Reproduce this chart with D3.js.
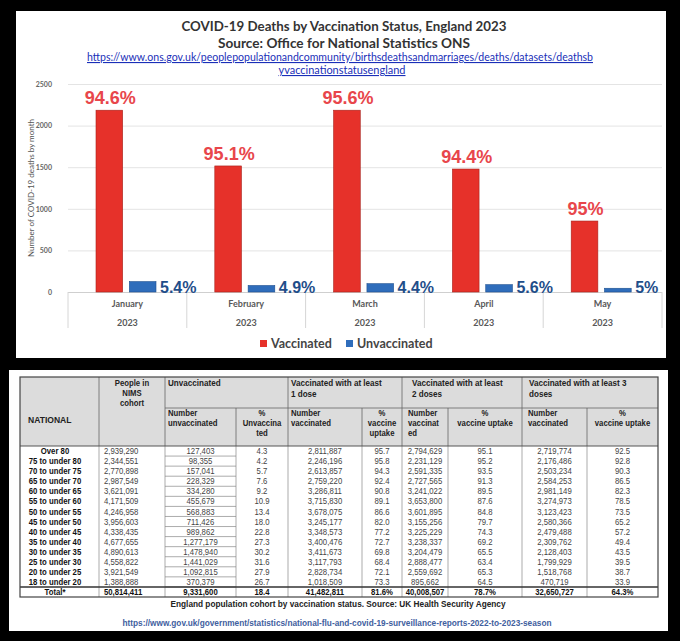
<!DOCTYPE html>
<html>
<head>
<meta charset="utf-8">
<script src="https://cdn.jsdelivr.net/npm/d3@7"></script>
<style>
body { margin: 0; background: #000; }
svg { display: block; }
</style>
</head>
<body>
<div id="chart-area"></div>
<script>
var width = 680,
	height = 641;

// Chart data (deaths)
var months = ["January", "February", "March", "April", "May"];
var vaccinated = [2185, 1515, 2185, 1478, 853];
var unvaccinated = [125, 78, 100, 88, 45];
var vaccinatedPct = ["94.6%", "95.1%", "95.6%", "94.4%", "95%"];
var unvaccinatedPct = ["5.4%", "4.9%", "4.4%", "5.6%", "5%"];
var yTicks = [0, 500, 1000, 1500, 2000, 2500];
var series = ["Vaccinated", "Unvaccinated"];

// Table data
var ageGroups = ["Over 80", "75 to under 80", "70 to under 75", "65 to under 70", "60 to under 65",
	"55 to under 60", "50 to under 55", "45 to under 50", "40 to under 45", "35 to under 40",
	"30 to under 35", "25 to under 30", "20 to under 25", "18 to under 20"];
var cohort = [2939290, 2344551, 2770898, 2987549, 3621091, 4171509, 4246958, 3956603, 4338435, 4677655, 4890613, 4558822, 3921549, 1388888];
var unvaxNum = [127403, 98355, 157041, 228329, 334280, 455679, 568883, 711426, 989862, 1277179, 1478940, 1441029, 1092815, 370379];
var unvaxPct = [4.3, 4.2, 5.7, 7.6, 9.2, 10.9, 13.4, 18.0, 22.8, 27.3, 30.2, 31.6, 27.9, 26.7];
var dose1Num = [2811887, 2246196, 2613857, 2759220, 3286811, 3715830, 3678075, 3245177, 3348573, 3400476, 3411673, 3117793, 2828734, 1018509];
var dose1Pct = [95.7, 95.8, 94.3, 92.4, 90.8, 89.1, 86.6, 82.0, 77.2, 72.7, 69.8, 68.4, 72.1, 73.3];
var dose2Num = [2794629, 2231129, 2591335, 2727565, 3241022, 3653800, 3601895, 3155256, 3225229, 3238337, 3204479, 2888477, 2559692, 895662];
var dose2Pct = [95.1, 95.2, 93.5, 91.3, 89.5, 87.6, 84.8, 79.7, 74.3, 69.2, 65.5, 63.4, 65.3, 64.5];
var dose3Num = [2719774, 2176486, 2503234, 2584253, 2981149, 3274973, 3123423, 2580366, 2479488, 2309762, 2128403, 1799929, 1518768, 470719];
var dose3Pct = [92.5, 92.8, 90.3, 86.5, 82.3, 78.5, 73.5, 65.2, 57.2, 49.4, 43.5, 39.5, 38.7, 33.9];
var totalRow = ["Total*", 50814411, 9331600, 18.4, 41482811, 81.6, 40008507, 78.7, 32650727, 64.3];

var groupHeads = [["Unvaccinated"], ["Vaccinated with at least", "1 dose"],
	["Vaccinated with at least", "2 doses"], ["Vaccinated with at least 3", "doses"]];
var subHeads = [["Number", "unvaccinated"], ["%", "Unvaccina", "ted"], ["Number", "vaccinated"],
	["%", "vaccine", "uptake"], ["Number", "vaccinat", "ed"], ["%", "vaccine uptake"],
	["Number", "vaccinated"], ["%", "vaccine uptake"]];

var svg = d3.select("#chart-area").append("svg")
	.attr("width", width)
	.attr("height", height);

svg.append("rect").attr("width", width).attr("height", height).attr("fill", "#000");

// white panels
svg.append("rect").attr("x", 16).attr("y", 11).attr("width", 650).attr("height", 347).attr("fill", "#fff");
svg.append("rect").attr("x", 9).attr("y", 370).attr("width", 659).attr("height", 261).attr("fill", "#fff");

// ---------- top chart ----------
var head = svg.append("g").attr("font-family", "Lato, sans-serif").attr("text-anchor", "middle");
head.append("text").attr("x", 344).attr("y", 31).attr("font-size", 14).attr("font-weight", "bold")
	.attr("fill", "#333").attr("textLength", 325).attr("lengthAdjust", "spacingAndGlyphs")
	.text("COVID-19 Deaths by Vaccination Status, England 2023");
head.append("text").attr("x", 344).attr("y", 48).attr("font-size", 14).attr("font-weight", "bold")
	.attr("fill", "#333").attr("textLength", 252).attr("lengthAdjust", "spacingAndGlyphs")
	.text("Source: Office for National Statistics ONS");
head.append("text").attr("x", 340).attr("y", 61).attr("font-size", 11)
	.attr("fill", "#1a2fb8").attr("text-decoration", "underline")
	.attr("textLength", 506).attr("lengthAdjust", "spacingAndGlyphs")
	.text("https://www.ons.gov.uk/peoplepopulationandcommunity/birthsdeathsandmarriages/deaths/datasets/deathsb");
head.append("text").attr("x", 342).attr("y", 74).attr("font-size", 11)
	.attr("fill", "#1a2fb8").attr("text-decoration", "underline")
	.attr("textLength", 127).attr("lengthAdjust", "spacingAndGlyphs")
	.text("yvaccinationstatusengland");

var x0 = d3.scaleBand().domain(months).range([68, 662]);
var x1 = d3.scaleBand().domain(series).range([28, 88]).paddingInner(0.2);
var y = d3.scaleLinear().domain([0, 2500]).range([292, 84]);

var yAxis = d3.axisLeft(y).tickValues(yTicks).tickFormat(d3.format("d"))
	.tickSizeInner(-(662 - 68)).tickSizeOuter(0).tickPadding(16);
var gy = svg.append("g").attr("transform", "translate(68,0)").call(yAxis);
gy.select(".domain").remove();
gy.selectAll("line").attr("stroke", function(d) { return d === 0 ? "#cfcfcf" : "#e4e4e4"; });
gy.selectAll("text").attr("font-family", "Lato, sans-serif").attr("font-size", 7)
	.attr("font-weight", "bold").attr("fill", "#666");

svg.append("text")
	.attr("transform", "translate(34,188) rotate(-90)")
	.attr("text-anchor", "middle")
	.attr("font-family", "Lato, sans-serif").attr("font-size", 8).attr("fill", "#555")
	.text("Number of COVID-19 deaths by month");

// category separators under the axis
var edges = months.map(function(m) { return x0(m); }).concat([x0.range()[1]]);
svg.selectAll(".sep").data(edges).enter().append("line")
	.attr("x1", function(d) { return d; }).attr("x2", function(d) { return d; })
	.attr("y1", y(0)).attr("y2", 328)
	.attr("stroke", "#d6d6d6");

svg.selectAll(".month").data(months).enter().append("text")
	.attr("x", function(d) { return x0(d) + x0.bandwidth() / 2; })
	.attr("y", 307)
	.attr("text-anchor", "middle").attr("font-family", "Lato, sans-serif")
	.attr("font-size", 9).attr("font-weight", "bold").attr("fill", "#595959")
	.text(function(d) { return d; });
svg.selectAll(".year").data(months).enter().append("text")
	.attr("x", function(d) { return x0(d) + x0.bandwidth() / 2; })
	.attr("y", 326)
	.attr("text-anchor", "middle").attr("font-family", "Lato, sans-serif")
	.attr("font-size", 9).attr("font-weight", "bold").attr("fill", "#595959")
	.text("2023");

// bars
var bars = svg.append("g");
bars.selectAll(".vac").data(vaccinated).enter().append("rect")
	.attr("x", function(d, i) { return x0(months[i]) + x1("Vaccinated"); })
	.attr("y", function(d) { return y(d); })
	.attr("width", x1.bandwidth())
	.attr("height", function(d) { return y(0) - y(d); })
	.attr("fill", "#e6312a").attr("stroke", "#a8231d").attr("stroke-width", 0.6);
bars.selectAll(".unvac").data(unvaccinated).enter().append("rect")
	.attr("x", function(d, i) { return x0(months[i]) + x1("Unvaccinated"); })
	.attr("y", function(d) { return y(d); })
	.attr("width", x1.bandwidth())
	.attr("height", function(d) { return y(0) - y(d); })
	.attr("fill", "#2f6dbb").attr("stroke", "#1d4f8f").attr("stroke-width", 0.6);

bars.selectAll(".vacLabel").data(vaccinatedPct).enter().append("text")
	.attr("x", function(d, i) { return x0(months[i]) + x1("Vaccinated") + x1.bandwidth() / 2 + 1; })
	.attr("y", function(d, i) { return y(vaccinated[i]) - 6; })
	.attr("text-anchor", "middle")
	.attr("font-family", "Liberation Sans, Arial, sans-serif").attr("font-size", 18).attr("font-weight", "bold")
	.attr("fill", "#e8464b")
	.text(function(d) { return d; });
bars.selectAll(".unvacLabel").data(unvaccinatedPct).enter().append("text")
	.attr("x", function(d, i) { return x0(months[i]) + x1("Unvaccinated") + x1.bandwidth() + 4; })
	.attr("y", y(0) + 1)
	.attr("font-family", "Liberation Sans, Arial, sans-serif").attr("font-size", 16).attr("font-weight", "bold")
	.attr("fill", "#1f4e8a")
	.text(function(d) { return d; });

// legend
var legendX = [260, 346], legendColors = ["#e6312a", "#2f6dbb"];
var leg = svg.selectAll(".legend").data(series).enter().append("g")
	.attr("transform", function(d, i) { return "translate(" + legendX[i] + ",340)"; });
leg.append("rect").attr("width", 7).attr("height", 7).attr("fill", function(d, i) { return legendColors[i]; });
leg.append("text").attr("x", 11).attr("y", 8)
	.attr("font-family", "Lato, sans-serif").attr("font-size", 12.5).attr("font-weight", "bold")
	.attr("fill", "#444")
	.text(function(d) { return d; });

// ---------- table ----------
var colEdges = [20, 99, 165, 236, 288, 362, 402, 448, 522, 587, 658];
var tTop = 377, tMid = 408, tHead = 446, tBottom = 597;
var rowLabels = ageGroups.concat([totalRow[0]]);
var yRow = d3.scaleBand().domain(rowLabels).range([tHead, tBottom]);
var fmtN = d3.format(","), fmtP = d3.format(".1f");
var tbl = svg.append("g").attr("font-family", "Liberation Sans, Arial, sans-serif");

tbl.append("rect").attr("x", colEdges[0]).attr("y", tTop)
	.attr("width", colEdges[10] - colEdges[0]).attr("height", tHead - tTop).attr("fill", "#dcdcdc");

function cell(x, yy, str, anchor, size, weight, color) {
	tbl.append("text")
		.attr("transform", "translate(" + x + "," + yy + ") scale(0.9,1)")
		.attr("text-anchor", anchor).attr("font-size", size).attr("font-weight", weight)
		.attr("fill", color).text(str);
}
function hline(x1, x2, yy, w, c) {
	tbl.append("line").attr("x1", x1).attr("x2", x2).attr("y1", yy).attr("y2", yy)
		.attr("stroke", c || "#666").attr("stroke-width", w || 0.8);
}
function vline(xx, y1, y2, w, c) {
	tbl.append("line").attr("x1", xx).attr("x2", xx).attr("y1", y1).attr("y2", y2)
		.attr("stroke", c || "#666").attr("stroke-width", w || 0.8);
}

// grid
[colEdges[1], colEdges[2], colEdges[4], colEdges[6], colEdges[8]].forEach(function(e) { vline(e, tTop, tHead); });
[colEdges[3], colEdges[5], colEdges[7], colEdges[9]].forEach(function(e) { vline(e, tMid, tHead); });
hline(colEdges[2], colEdges[10], tMid);
colEdges.slice(1, 10).forEach(function(e) { vline(e, tHead, tBottom, 0.7, "#888"); });
rowLabels.slice(1).forEach(function(r) { hline(colEdges[2], colEdges[3], yRow(r), 0.7, "#888"); });
hline(colEdges[0], colEdges[10], tHead, 1.2, "#555");
hline(colEdges[0], colEdges[10], yRow(totalRow[0]), 1.6, "#333");
tbl.append("rect").attr("x", colEdges[0]).attr("y", tTop)
	.attr("width", colEdges[10] - colEdges[0]).attr("height", tBottom - tTop)
	.attr("fill", "none").attr("stroke", "#444").attr("stroke-width", 1.2);

// header text
cell(28, 423, "NATIONAL", "start", 9.5, "bold", "#222");
["People in", "NIMS", "cohort"].forEach(function(t, i) { cell(132, 386 + i * 10, t, "middle", 8.6, "bold", "#222"); });
var groupPad = [3, 3, 10, 7];
groupHeads.forEach(function(lines, g) {
	lines.forEach(function(t, i) { cell(colEdges[2 + g * 2] + groupPad[g], 386 + i * 10.5, t, "start", 9, "bold", "#222"); });
});
subHeads.forEach(function(lines, k) {
	var c = k + 2, isPct = k % 2 === 1;
	var xx = isPct ? (colEdges[c] + colEdges[c + 1]) / 2 : colEdges[c] + (c < 6 ? 3 : 6);
	lines.forEach(function(t, i) { cell(xx, 416 + i * 10, t, isPct ? "middle" : "start", 8.6, "bold", "#222"); });
});

// body rows
var rows = ageGroups.map(function(a, i) {
	return [a, cohort[i], unvaxNum[i], unvaxPct[i], dose1Num[i], dose1Pct[i], dose2Num[i], dose2Pct[i], dose3Num[i], dose3Pct[i]];
});
rows.push(totalRow);
rows.forEach(function(r, i) {
	var isTotal = i === rows.length - 1;
	var yy = yRow(r[0]) + yRow.bandwidth() / 2 + 3.1;
	var weight = isTotal ? "bold" : "normal", color = isTotal ? "#111" : "#444";
	cell(55, yy, r[0], "middle", 8.6, "bold", "#111");
	r.slice(1).forEach(function(v, j) {
		var c = j + 1, str;
		if (c % 2 === 0 || c === 1) str = fmtN(v);
		else str = fmtP(v) + (isTotal && c > 3 ? "%" : "");
		if (c === 1) cell(colEdges[1] + 5, yy, str, "start", 8.6, weight, color);
		else cell((colEdges[c] + colEdges[c + 1]) / 2, yy, str, "middle", 8.6, weight, color);
	});
});

// caption
tbl.append("text").attr("x", 338).attr("y", 607).attr("text-anchor", "middle")
	.attr("font-size", 9.3).attr("font-weight", "bold").attr("fill", "#222")
	.attr("textLength", 335).attr("lengthAdjust", "spacingAndGlyphs")
	.text("England population cohort by vaccination status. Source: UK Health Security Agency");
tbl.append("text").attr("x", 337).attr("y", 626).attr("text-anchor", "middle")
	.attr("font-size", 8.5).attr("font-weight", "bold").attr("fill", "#41609e")
	.attr("textLength", 429).attr("lengthAdjust", "spacingAndGlyphs")
	.text("https://www.gov.uk/government/statistics/national-flu-and-covid-19-surveillance-reports-2022-to-2023-season");
</script>
</body>
</html>
